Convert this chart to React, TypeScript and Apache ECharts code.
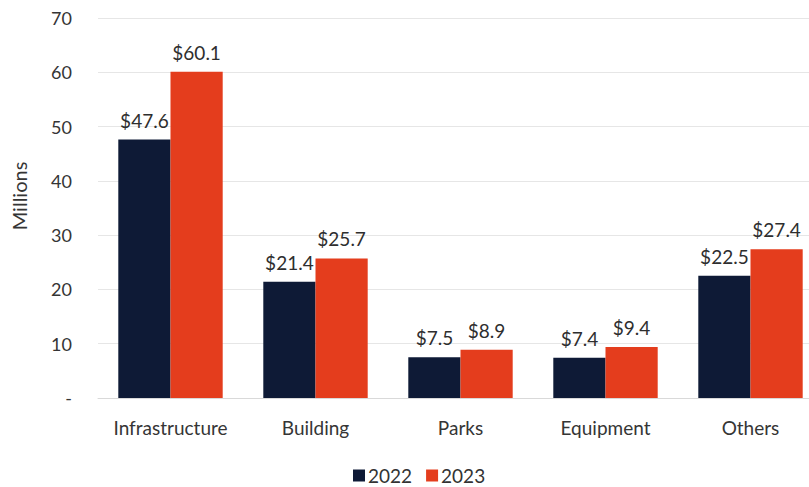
import React, { useEffect, useRef } from "react";
import * as echarts from "echarts";

const categories = ["Infrastructure", "Building", "Parks", "Equipment", "Others"];
const values2022 = [47.6, 21.4, 7.5, 7.4, 22.5];
const values2023 = [60.1, 25.7, 8.9, 9.4, 27.4];
const seriesNames = ["2022", "2023"];

const FONT = "Lato, 'Open Sans', sans-serif";

export default function App() {
  const ref = useRef<HTMLDivElement>(null);
  useEffect(() => {
    document.body.style.margin = "0";
    const chart = echarts.init(ref.current!, null, { renderer: "svg" });
    const label = {
      show: true,
      position: "top",
      distance: 10,
      fontFamily: FONT,
      fontSize: 19,
      color: "#2e2e2e",
      formatter: (p: any) => "$" + Number(p.value).toFixed(1),
    };
    chart.setOption({
      animation: false,
      backgroundColor: "#ffffff",
      textStyle: { fontFamily: FONT },
      grid: { left: 98, width: 725, top: 18, height: 380, outerBoundsMode: "none", containLabel: false },
      legend: {
        bottom: -3,
        left: 348,
        itemWidth: 12,
        itemHeight: 12,
        itemGap: 14,
        icon: "rect",
        textStyle: { fontFamily: FONT, fontSize: 19, color: "#333333", padding: [0, 0, 0, -2] },
        data: seriesNames,
      },
      xAxis: {
        type: "category",
        data: categories,
        axisLine: { lineStyle: { color: "#d9d9d9" } },
        axisTick: { show: false },
        axisLabel: { fontFamily: FONT, fontSize: 19, color: "#353535", margin: 20, interval: 0, hideOverlap: false },
      },
      yAxis: {
        type: "value",
        min: 0,
        max: 70,
        interval: 10,
        name: "Millions",
        nameLocation: "middle",
        nameRotate: 90,
        nameGap: 69,
        nameTextStyle: { fontFamily: FONT, fontSize: 20, color: "#353535", padding: [0, 0, 0, 24] },
        axisLine: { show: false },
        axisTick: { show: false },
        axisLabel: {
          fontFamily: FONT,
          fontSize: 18,
          color: "#353535",
          margin: 26,
          formatter: (v: number) => (v === 0 ? "-" : String(v)),
        },
        splitLine: { lineStyle: { color: "#e6e6e6" } },
      },
      series: [
        {
          name: seriesNames[0],
          type: "bar",
          data: values2022,
          itemStyle: { color: "#0e1a36" },
          barGap: "0%",
          barCategoryGap: "28%",
          label,
        },
        {
          name: seriesNames[1],
          type: "bar",
          data: values2023,
          itemStyle: { color: "#e43d1d" },
          barGap: "0%",
          barCategoryGap: "28%",
          label,
        },
      ],
    });
    return () => chart.dispose();
  }, []);
  return <div ref={ref} style={{ width: 809, height: 487 }} />;
}
